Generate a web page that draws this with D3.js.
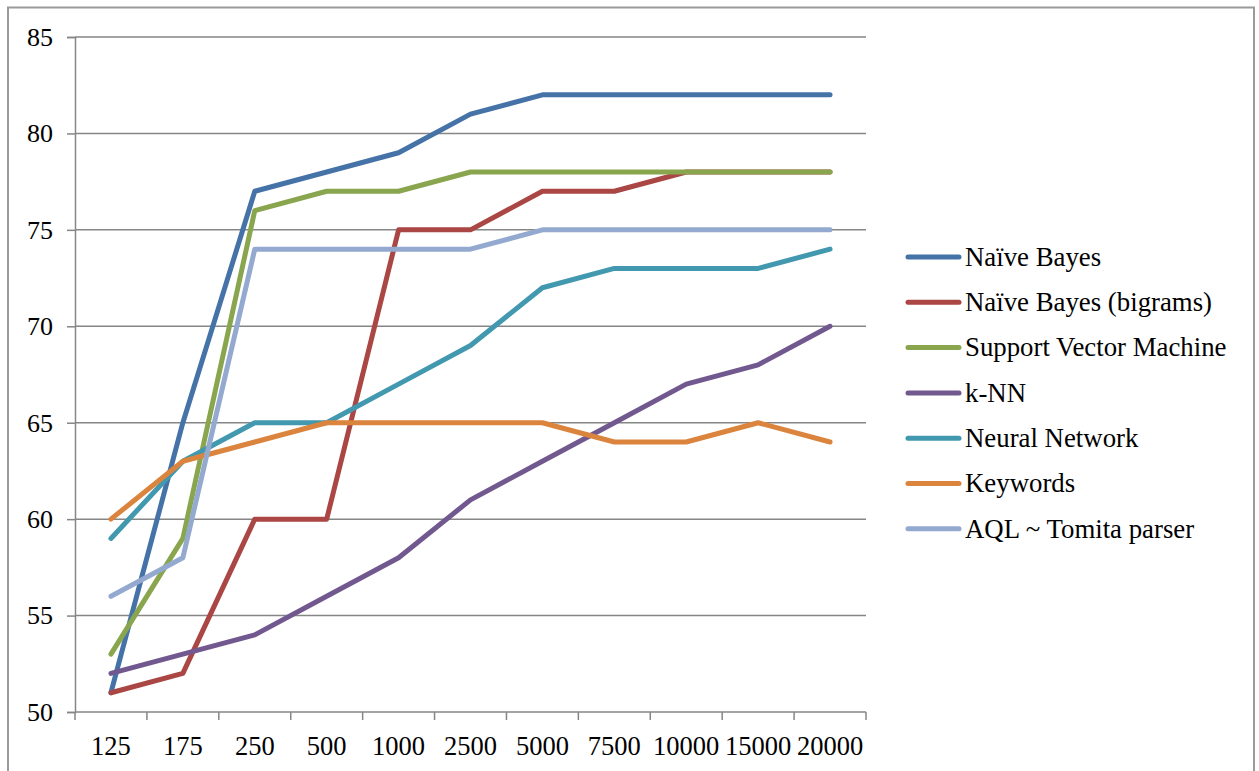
<!DOCTYPE html>
<html>
<head>
<meta charset="utf-8">
<script src="https://cdn.jsdelivr.net/npm/d3@7/dist/d3.min.js"></script>
<style>
  html, body { margin: 0; padding: 0; background: #fff; }
  svg { display: block; }
  text { font-family: "Liberation Serif", "Times New Roman", "DejaVu Serif", serif; fill: #000; }
</style>
</head>
<body>
<svg id="chart" width="1259" height="771"></svg>
<script>
// Training set sizes (category axis)
const categories = ["125", "175", "250", "500", "1000", "2500", "5000", "7500", "10000", "15000", "20000"];

// Accuracy per method
const naiveBayes        = [51, 65, 77, 78, 79, 81, 82, 82, 82, 82, 82];
const naiveBayesBigrams = [51, 52, 60, 60, 75, 75, 77, 77, 78, 78, 78];
const svm               = [53, 59, 76, 77, 77, 78, 78, 78, 78, 78, 78];
const knn               = [52, 53, 54, 56, 58, 61, 63, 65, 67, 68, 70];
const neuralNetwork     = [59, 63, 65, 65, 67, 69, 72, 73, 73, 73, 74];
const keywords          = [60, 63, 64, 65, 65, 65, 65, 64, 64, 65, 64];
const aqlTomita         = [56, 58, 74, 74, 74, 74, 75, 75, 75, 75, 75];

const seriesNames = ["Naïve Bayes", "Naïve Bayes (bigrams)", "Support Vector Machine", "k-NN", "Neural Network", "Keywords", "AQL ~ Tomita parser"];
const yTicks = [50, 55, 60, 65, 70, 75, 80, 85];

const colors = ["#4572A7", "#AA4643", "#89A54E", "#71588F", "#4198AF", "#DB843D", "#93A9CF"];
const seriesValues = [naiveBayes, naiveBayesBigrams, svm, knn, neuralNetwork, keywords, aqlTomita];
const series = seriesNames.map((name, i) => ({ name, values: seriesValues[i], color: colors[i] }));

const svg = d3.select("#chart");
const plotLeft = 75, plotRight = 866, plotTop = 37, plotBottom = 712;
const axisColor = "#868686";

// Outer chart frame
svg.append("path")
  .attr("d", `M8,771 L8,7.5 L1254,7.5 L1254,771`)
  .attr("fill", "none").attr("stroke", "#9a9a9a").attr("stroke-width", 2);

const x = d3.scaleBand().domain(categories).range([plotLeft, plotRight]).padding(0);
const y = d3.scaleLinear().domain([50, 85]).range([plotBottom, plotTop]);

// Horizontal gridlines
svg.append("g")
  .selectAll("line")
  .data(yTicks.filter(t => t > 50))
  .join("line")
  .attr("x1", plotLeft).attr("x2", plotRight)
  .attr("y1", d => y(d)).attr("y2", d => y(d))
  .attr("stroke", axisColor).attr("stroke-width", 1.5);

// Y axis
const yAxis = svg.append("g")
  .attr("transform", `translate(${plotLeft},0)`)
  .call(d3.axisLeft(y).tickValues(yTicks).tickSize(8).tickPadding(14).tickFormat(d3.format("d")));
yAxis.select(".domain").attr("stroke", axisColor).attr("stroke-width", 1.5);
yAxis.selectAll(".tick line").attr("stroke", axisColor).attr("stroke-width", 1.5);
yAxis.selectAll(".tick text").attr("font-size", 26).attr("fill", "#000");

// X axis with ticks at category boundaries
const xAxis = svg.append("g")
  .attr("transform", `translate(0,${plotBottom})`)
  .call(d3.axisBottom(x).tickSize(0).tickPadding(24));
xAxis.select(".domain").remove();
xAxis.selectAll(".tick text").attr("font-size", 26.5).attr("fill", "#000");
const boundaries = categories.map(c => x(c)).concat([x(categories[categories.length - 1]) + x.bandwidth()]);
xAxis.append("line")
  .attr("x1", plotLeft).attr("x2", plotRight).attr("y1", 0).attr("y2", 0)
  .attr("stroke", axisColor).attr("stroke-width", 1.5);
xAxis.selectAll(".btick")
  .data(boundaries)
  .join("line")
  .attr("class", "btick")
  .attr("x1", d => d).attr("x2", d => d)
  .attr("y1", 0).attr("y2", 8)
  .attr("stroke", axisColor).attr("stroke-width", 1.5);

// Series lines
const line = d3.line()
  .x((d, i) => x(categories[i]) + x.bandwidth() / 2)
  .y(d => y(d));

svg.append("g")
  .selectAll("path")
  .data(series)
  .join("path")
  .attr("d", d => line(d.values))
  .attr("fill", "none")
  .attr("stroke", d => d.color)
  .attr("stroke-width", 5)
  .attr("stroke-linejoin", "round")
  .attr("stroke-linecap", "round");

// Legend
const legend = svg.append("g").attr("transform", "translate(906,257)");
const rows = legend.selectAll("g")
  .data(series)
  .join("g")
  .attr("transform", (d, i) => `translate(0,${i * 45.3})`);
rows.append("line")
  .attr("x1", 2).attr("x2", 53).attr("y1", 0).attr("y2", 0)
  .attr("stroke", d => d.color).attr("stroke-width", 5).attr("stroke-linecap", "round");
rows.append("text")
  .attr("x", 59).attr("y", 0).attr("dy", "0.33em")
  .attr("font-size", 26.8)
  .text(d => d.name);
</script>
</body>
</html>
